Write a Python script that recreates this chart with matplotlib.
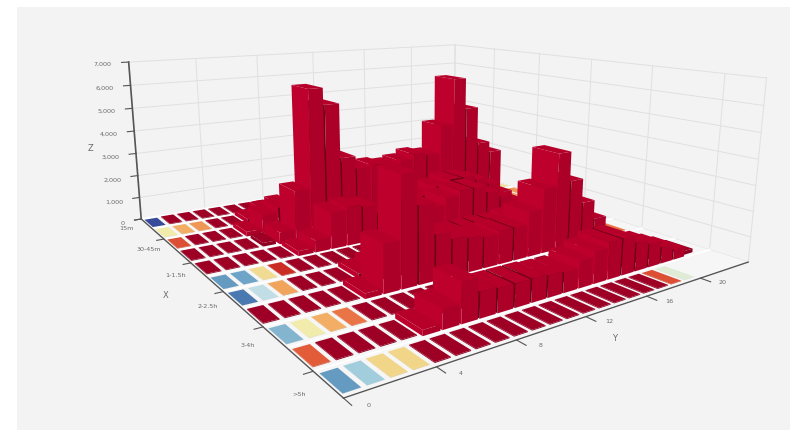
import numpy as np, matplotlib
matplotlib.use('Agg')
import matplotlib.pyplot as plt
from matplotlib.colors import LinearSegmentedColormap
from matplotlib.patches import Rectangle
from mpl_toolkits.mplot3d import proj3d
from mpl_toolkits.mplot3d.art3d import Poly3DCollection

x_labels = ['15m', '30-45m', '1-1.5h', '2-2.5h', '3-4h', '>5h']
x_label_rows = [0, 2, 4, 6, 8, 10]
y_labels = ['0', '4', '8', '12', '16', '20']
y_label_cols = [0, 4, 8, 12, 16, 20]
z_ticks = [0, 1000, 2000, 3000, 4000, 5000, 6000, 7000]
z_labels = ['0', '1,000', '2,000', '3,000', '4,000', '5,000', '6,000', '7,000']
n = np.nan
r0 = [1,30,30,30,30,30,30,40,40,40,40,30,30,30,30,30,40,40,30,30,30,30,30,30]
r1 = [13,17,18,30,30,200,500,650,500,300,200,150,100,100,100,150,200,200,150,100,30,30,30,n]
r2 = [21,30,30,30,200,800,1000,900,700,400,300,300,300,300,400,500,700,500,300,200,150,100,30,14]
r3 = [30,30,30,30,150,500,2100,6200,5500,3200,2650,2700,2600,2700,2900,2800,4050,6100,4700,3000,2500,100,18,18]
r4 = [30,30,30,30,30,200,500,1500,1600,1500,1100,1000,1000,1500,1800,2000,2000,1800,1500,1000,500,100,30,30]
r5 = [4.5,5,14.5,22.5,30,30,30,40,40,400,800,1200,1500,1800,2000,2000,1700,1400,900,500,150,30,30,6]
r6 = [3,9,17.5,30,30,30,200,400,1000,1500,1200,1000,900,900,900,900,1000,1000,900,500,100,30,6,6]
r7 = [30,30,30,30,30,200,1800,4100,2900,1700,1400,1300,1200,1300,1300,1800,2600,3900,2700,1700,900,30,19.5,n]
r8 = [6,13,17,19.5,30,30,30,30,30,30,30,30,30,30,30,30,30,30,30,30,30,n,n,n]
r9 = [20.5,30,30,30,30,200,700,1400,900,850,850,850,800,750,1000,1200,1400,1400,1100,900,650,400,150,n]
r10 = [4.5,7.5,15,15,30,30,30,30,30,30,30,30,30,30,30,30,30,30,21,11,n,n,n,n]
values = [r0, r1, r2, r3, r4, r5, r6, r7, r8, r9, r10]

W, H = 790, 431
S = 1000
fig = plt.figure(figsize=(W/100, H/100), dpi=100, facecolor='white')
fig.add_artist(Rectangle((17/W, 0), 773/W, 423/H, transform=fig.transFigure, fc='#f3f3f3', ec='none', zorder=-5))
ax = fig.add_axes([0, 0, S/W, S/H], projection='3d', computed_zorder=False)
ax.set_xlim(0, 11); ax.set_ylim(0, 24); ax.set_zlim(0, 7000)
elev, azim, roll, f, a, b, c, z, dx, dy = [12.5511, -34.5572, -0.0955, 0.143, 1.338, 1.2603, 0.5047, 0.6361, -93.5374, -239.6158]
ax.view_init(elev, azim, roll)
ax.set_proj_type('persp', focal_length=f)
ax.set_box_aspect((a, b, c), zoom=z)
ax.set_position([dx/W, dy/H, S/W, S/H])
ax.apply_aspect()
ax.set_xticks([]); ax.set_yticks([]); ax.set_zticks([])
ax.set_axis_off()
ax.patch.set_visible(False)

cmap = LinearSegmentedColormap.from_list('rb', ['#313695','#4575b4','#74add1','#abd9e9','#e0f3f8','#ffffbf','#fee090','#fdae61','#f46d43','#d73027','#a50026'])
NX, NY, ZM, VMAX = 11, 24, 7000, 25
GRID = '#e0e0e0'
for t in z_ticks:
    ax.plot([0, 0], [0, NY], [t, t], color=GRID, lw=0.7, zorder=1)
    ax.plot([0, NX], [NY, NY], [t, t], color=GRID, lw=0.7, zorder=1)
for k in range(0, NY+1, 4):
    ax.plot([0, 0], [k, k], [0, ZM], color=GRID, lw=0.7, zorder=1)
for k in list(range(0, NX, 2)) + [NX]:
    ax.plot([k, k], [NY, NY], [0, ZM], color=GRID, lw=0.7, zorder=1)
ax.add_collection3d(Poly3DCollection([[(0,0,0),(NX,0,0),(NX,NY,0),(0,NY,0)]], facecolors='#f6f6f6', edgecolors='none', zorder=2))
for k in range(0, NX+1):
    ax.plot([k, k], [0, NY], [0, 0], color='white', lw=1.3, zorder=3)

def height(r, col):
    if 0 <= r < NX and 0 <= col < NY and not np.isnan(values[r][col]):
        return values[r][col]
    return 0.0

DARK = (0.42, 0.0, 0.09, 1)
order = 10
for r in range(NX):
    for col in range(NY-1, -1, -1):
        v = values[r][col]
        if np.isnan(v):
            continue
        base = np.array(cmap(min(v, VMAX)/VMAX))[:3]
        tall = v >= 200
        top = np.clip(base*(1.1 if tall else 0.95), 0, 1)
        fy = np.clip(base*(1.15 if tall else 0.9), 0, 1)
        fx = np.clip(base*(1.05 if tall else 0.85), 0, 1)
        clear = (0, 0, 0, 0)
        fyc = tuple(fy)+(1,)
        fxc = tuple(fx)+(1,)
        if tall and height(r, col-1) >= v:
            fyc = DARK
        if tall and height(r+1, col) >= v:
            fxc = DARK
        colors = [clear, tuple(top)+(1,), fyc, clear, clear, fxc]
        w = 0.9 if tall else 0.76
        p = ax.bar3d(r+(1-w)/2, col+(1-w)/2, 0, w, w, v, color=colors, shade=False, edgecolor='none', linewidth=0)
        p.set_zorder(order); order += 1

AX = '#555555'
LAB = '#6a6a6a'
FS = 4.6
M = ax.get_proj()
def label(x, y, zv, s, fs=FS):
    u, v, _ = proj3d.proj_transform(np.array([x], float), np.array([y], float), np.array([zv], float), M)
    px = ax.transData.transform(np.c_[u, v])[0]
    fig.text(px[0]/W, px[1]/H, s, fontsize=fs, color=LAB, ha='center', va='center')

ax.plot([0, 0], [0, 0], [0, ZM], color=AX, lw=1.2, zorder=2000)
ax.plot([0, NX], [0, 0], [0, 0], color=AX, lw=1.0, zorder=2000)
ax.plot([NX, NX], [0, NY], [0, 0], color=AX, lw=1.0, zorder=2000)
for t, l in zip(z_ticks, z_labels):
    ax.plot([0, 0], [0, -0.4], [t, t], color=AX, lw=0.8, zorder=2000)
    label(0, -1.45 if t else -1.1, t, l)
for k, l in zip(x_label_rows, x_labels):
    ax.plot([k, k], [0, -0.4], [0, 0], color=AX, lw=0.8, zorder=2000)
    label(k+.5, -1.15, 0, l)
for k, l in zip(y_label_cols, y_labels):
    ax.plot([NX, NX+.25], [k, k], [0, 0], color=AX, lw=0.8, zorder=2000)
    label(NX+.38, k+.5, 0, l)
label(5.5, -2.35, 0, 'X', 6)
label(NX+.9, 11.5, 0, 'Y', 6)
label(0, -2.5, 3500, 'Z', 6)
fig.savefig('out.png', dpi=100, facecolor='white')
